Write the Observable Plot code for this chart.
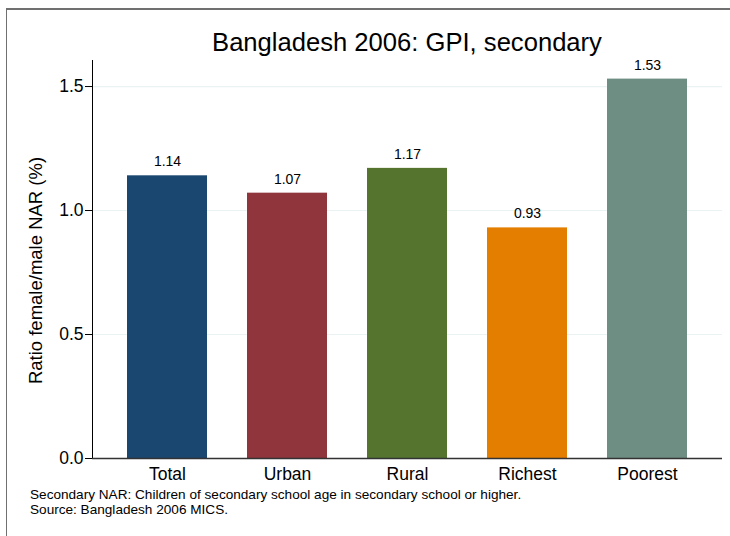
<!DOCTYPE html>
<html>
<head>
<meta charset="utf-8">
<script src="https://cdn.jsdelivr.net/npm/d3@7"></script>
<script src="https://cdn.jsdelivr.net/npm/@observablehq/plot@0.6"></script>
<style>
  html, body { margin: 0; padding: 0; background: #fff; }
  #wrap { position: relative; width: 730px; height: 536px; overflow: hidden; font-family: "Liberation Sans", Arial, sans-serif; }
  #border { position: absolute; left: 6px; top: 8px; width: 800px; height: 600px; border-top: 2px solid #707070; border-left: 1px solid #707070; }
  #title { position: absolute; left: 92px; width: 630px; top: 28px; text-align: center; font-size: 25.6px; color: #000; }
  #caption { position: absolute; left: 30px; top: 487px; font-size: 13.6px; line-height: 15px; color: #000; }
  svg { position: absolute; left: 0; top: 0; }
</style>
</head>
<body>
<div id="wrap">
  <div id="border"></div>
  <div id="title">Bangladesh 2006: GPI, secondary</div>
  <div id="caption">Secondary NAR: Children of secondary school age in secondary school or higher.<br>Source: Bangladesh 2006 MICS.</div>
</div>
<script>
const categories = ["Total", "Urban", "Rural", "Richest", "Poorest"];
const values = [1.14, 1.07, 1.17, 0.93, 1.53];
const colors = ["#1a476f", "#90353b", "#55752f", "#e37e00", "#6e8e84"];
const yTicks = [0, 0.5, 1.0, 1.5];
const yLabel = "Ratio female/male NAR (%)";

const data = categories.map((c, i) => ({cat: c, value: values[i], color: colors[i]}));

const chart = Plot.plot({
  width: 730,
  height: 536,
  marginTop: 60,
  marginBottom: 78,
  marginLeft: 92,
  marginRight: 8,
  style: {fontFamily: "'Liberation Sans', Arial, sans-serif", background: "transparent", overflow: "visible"},
  x: {domain: categories, insetLeft: 15, insetRight: 15, paddingInner: 1/3, paddingOuter: 1/6, label: null},
  y: {domain: [0, 1.605], label: null},
  marks: [
    Plot.gridY(yTicks.slice(1), {stroke: "#eaf2f3", strokeOpacity: 1, strokeWidth: 1.2}),
    Plot.barY(data, {x: "cat", y: "value", fill: "color"}),
    Plot.text(data, {x: "cat", y: "value", text: d => d.value.toFixed(2), dy: -14, fontSize: 14, fill: "#000"}),
    Plot.axisY({ticks: yTicks, tickFormat: d => d.toFixed(1), tickSize: 7, tickPadding: 2, fontSize: 17.5, stroke: "#000", fill: "#000"}),
    Plot.axisX({tickSize: 0, tickPadding: 9, fontSize: 17.5, fill: "#000"}),
    Plot.frame({anchor: "left", stroke: "#000"}),
    Plot.ruleY([0], {stroke: "#333", strokeWidth: 1.5}),
    Plot.text([yLabel], {frameAnchor: "left", textAnchor: "middle", dx: -56, dy: 11, rotate: -90, fontSize: 18.5, fill: "#000"})
  ]
});
document.getElementById("wrap").appendChild(chart);
</script>
</body>
</html>
